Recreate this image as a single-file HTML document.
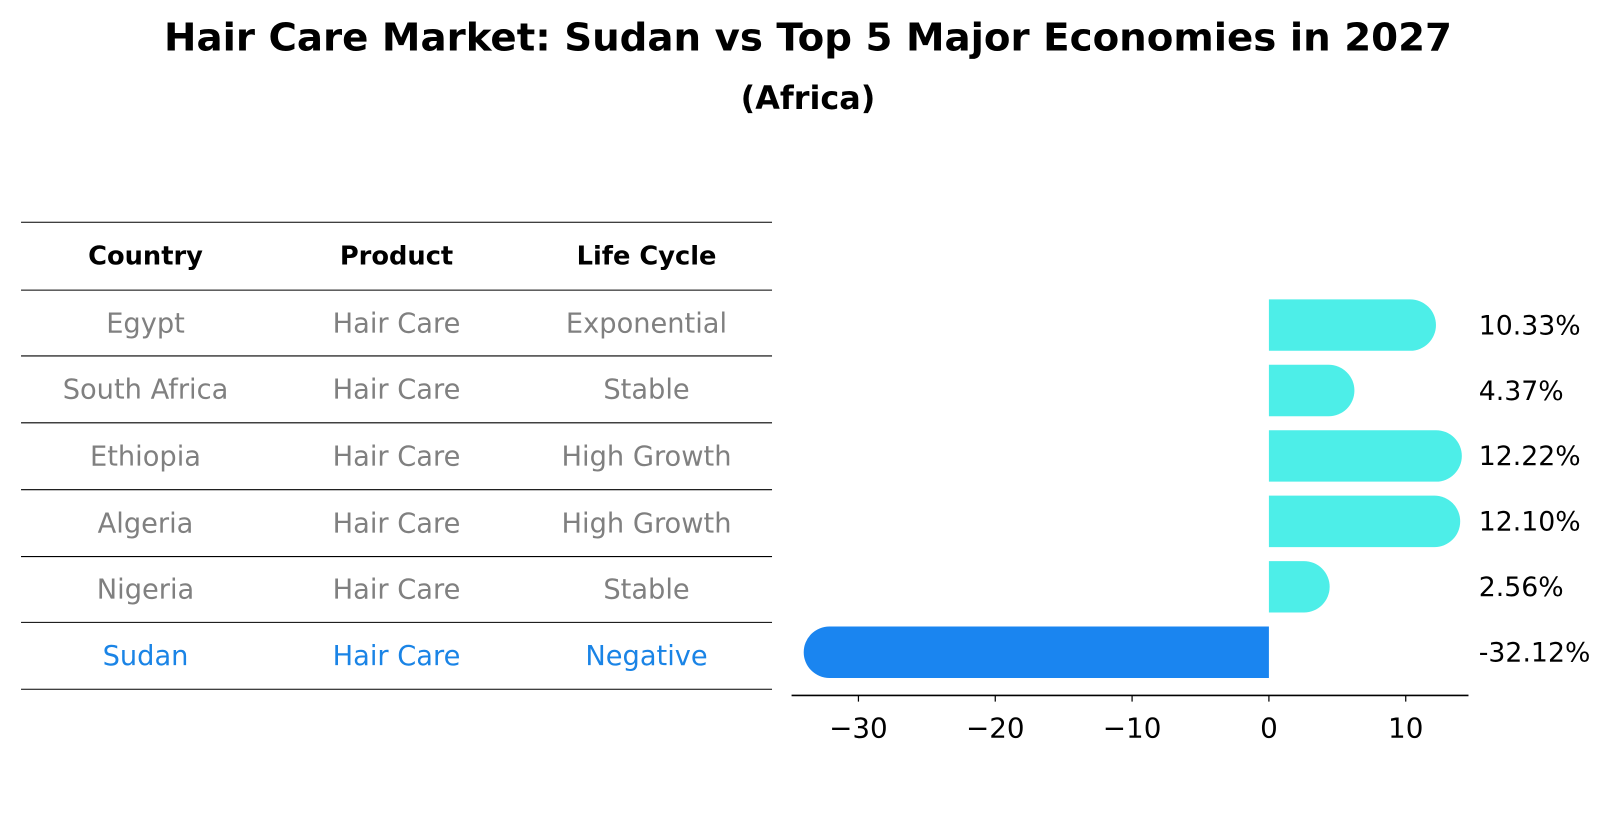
<!DOCTYPE html>
<html><head><meta charset="utf-8"><style>
body{margin:0;background:#fff;width:1614px;height:823px;overflow:hidden;font-family:"Liberation Sans","DejaVu Sans",sans-serif}
</style></head><body>
<svg width="1614" height="823" viewBox="0 0 1568 800" xmlns="http://www.w3.org/2000/svg" font-family="'DejaVu Sans','Liberation Sans',sans-serif">
<text x="785" y="49" text-anchor="middle" font-size="37" font-weight="bold" textLength="1252" lengthAdjust="spacingAndGlyphs">Hair Care Market: Sudan vs Top 5 Major Economies in 2027</text>
<text x="785" y="106" text-anchor="middle" font-size="31" font-weight="bold">(Africa)</text>
<g id="table"></g>
<g id="chart"></g>
</svg>
<script>
const countries=["Egypt","South Africa","Ethiopia","Algeria","Nigeria","Sudan"];
const products=["Hair Care","Hair Care","Hair Care","Hair Care","Hair Care","Hair Care"];
const lifecycles=["Exponential","Stable","High Growth","High Growth","Stable","Negative"];
const values=[10.33,4.37,12.22,12.10,2.56,-32.12];
const ticks=[-30,-20,-10,0,10];
const NS="http://www.w3.org/2000/svg";
function mk(t,a,p){const e=document.createElementNS(NS,t);for(const k in a)e.setAttribute(k,a[k]);p.appendChild(e);return e;}
const tbl=document.getElementById('table');
const lines=[216,282,346,411,476,541,605,670];
lines.forEach((y,i)=>{const l=mk('line',{x1:20,x2:750,y1:y,y2:y,stroke:'#000','stroke-width':1},tbl);

});
const cx=[141,385,628];
["Country","Product","Life Cycle"].forEach((h,i)=>{const t=mk('text',{x:cx[i],y:257,'text-anchor':'middle','font-size':25,'font-weight':'bold'},tbl);t.textContent=h;

});
countries.forEach((c,r)=>{const y=(lines[r+1]+lines[r+2])/2+9;const col=c==="Sudan"?"#1a84e6":"#808080";
[c,products[r],lifecycles[r]].forEach((v,i)=>{const t=mk('text',{x:cx[i],y:y,'text-anchor':'middle','font-size':26.5,fill:col},tbl);t.textContent=v;

});});
const ch=document.getElementById('chart');
const x0=1233,k=13.3;const X=v=>x0+v*k;
const rowY=i=>316+i*63.6;const h=50,r=25;
values.forEach((v,i)=>{const yc=rowY(i),xe=X(v),col=v<0?"#1a85f0":"#4deee8";
let d;
if(v>=0)d=`M${x0},${yc-h/2}H${xe}A${r},${r} 0 0 1 ${xe},${yc+h/2}H${x0}Z`;
else d=`M${x0},${yc-h/2}H${xe}A${r},${r} 0 0 0 ${xe},${yc+h/2}H${x0}Z`;
const p=mk('path',{d:d,fill:col},ch);


const t=mk('text',{x:1437,y:yc+9,'font-size':26},ch);t.textContent=v.toFixed(2)+'%';

});
const ax=mk('line',{x1:769,x2:1427,y1:676,y2:676,stroke:'#000','stroke-width':1.5},ch);


ticks.forEach(v=>{const tk=mk('line',{x1:X(v),x2:X(v),y1:676,y2:682,stroke:'#000','stroke-width':1.2},ch);


const t=mk('text',{x:X(v),y:717,'text-anchor':'middle','font-size':27},ch);t.textContent=v<0?'\u2212'+Math.abs(v):String(v);

});
</script>
</body></html>
